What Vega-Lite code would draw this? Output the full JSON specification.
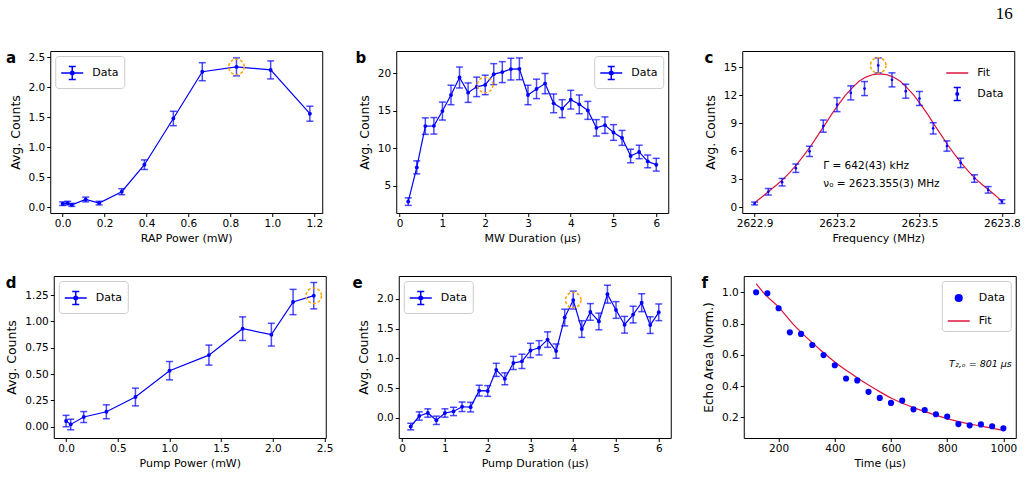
{
"$schema": "https://vega.github.io/schema/vega-lite/v6.json",
"padding": {"left": 5, "top": 4, "right": 9, "bottom": 4},
"title": {"text": "16", "font": "Liberation Serif", "fontSize": 17, "fontWeight": "normal", "anchor": "end", "offset": 28, "dx": -8, "color": "black"},
"config": {
  "font": "DejaVu Sans",
  "view": {"stroke": "black", "strokeWidth": 1},
  "axis": {"domain": false, "grid": false, "tickColor": "black", "tickSize": 3.5, "tickWidth": 1, "labelColor": "black", "labelFontSize": 10.5, "labelPadding": 2, "labelFlush": false, "labelOverlap": false, "titleColor": "black", "titleFontWeight": "normal", "titleFontSize": 11},
  "axisX": {"titlePadding": 3},
  "axisY": {"titleFontSize": 12.5, "titlePadding": 6},
  "legend": {"labelFontSize": 11, "labelColor": "black", "labelOffset": 8, "strokeColor": "#cccccc", "fillColor": "white", "padding": 5, "cornerRadius": 3, "offset": 5, "rowPadding": 4},
  "title": {"font": "DejaVu Sans", "fontSize": 15, "fontWeight": "bold", "anchor": "start", "frame": "bounds", "offset": -15, "color": "black"}
},
"resolve": {"scale": {"color": "independent"}, "legend": {"color": "independent"}},
"spacing": 31,
"center": true,
"vconcat": [
{
"spacing": 74,
"bounds": "flush",
"resolve": {"scale": {"color": "independent"}, "legend": {"color": "independent"}},
"hconcat": [
{
  "width": 272, "height": 162,
  "title": {"text": "a", "dx": -3},
  "data": {"values": [
    {"x":0.0,"y":0.06,"lo":0.03,"hi":0.09},
    {"x":0.024,"y":0.07,"lo":0.04,"hi":0.10},
    {"x":0.044,"y":0.04,"lo":0.015,"hi":0.065},
    {"x":0.11,"y":0.13,"lo":0.09,"hi":0.17},
    {"x":0.174,"y":0.07,"lo":0.04,"hi":0.10},
    {"x":0.282,"y":0.26,"lo":0.21,"hi":0.31},
    {"x":0.39,"y":0.71,"lo":0.63,"hi":0.79},
    {"x":0.528,"y":1.48,"lo":1.36,"hi":1.60},
    {"x":0.666,"y":2.26,"lo":2.11,"hi":2.41},
    {"x":0.829,"y":2.34,"lo":2.19,"hi":2.49},
    {"x":0.992,"y":2.29,"lo":2.14,"hi":2.44},
    {"x":1.179,"y":1.56,"lo":1.435,"hi":1.685}
  ]},
  "encoding": {
    "x": {"field": "x", "type": "quantitative", "scale": {"domain": [-0.059, 1.238], "nice": false, "zero": false}, "axis": {"values": [0,0.2,0.4,0.6,0.8,1.0,1.2], "format": ".1f", "title": "RAP Power (mW)"}}
  },
  "layer": [
    {"mark": {"type": "rule", "color": "blue", "opacity": 0.7, "strokeWidth": 1.5}, "encoding": {"y": {"field": "lo", "type": "quantitative", "scale": {"domain": [-0.095, 2.605], "nice": false, "zero": false}, "axis": {"values": [0,0.5,1,1.5,2,2.5], "format": ".1f", "title": "Avg. Counts"}}, "y2": {"field": "hi"}}},
    {"mark": {"type": "tick", "orient": "horizontal", "color": "blue", "opacity": 0.7, "size": 7, "thickness": 1.5}, "encoding": {"y": {"field": "lo", "type": "quantitative", "scale": {"domain": [-0.095, 2.605], "nice": false, "zero": false}, "axis": {"values": [0,0.5,1,1.5,2,2.5], "format": ".1f", "title": "Avg. Counts"}}}},
    {"mark": {"type": "tick", "orient": "horizontal", "color": "blue", "opacity": 0.7, "size": 7, "thickness": 1.5}, "encoding": {"y": {"field": "hi", "type": "quantitative", "scale": {"domain": [-0.095, 2.605], "nice": false, "zero": false}, "axis": {"values": [0,0.5,1,1.5,2,2.5], "format": ".1f", "title": "Avg. Counts"}}}},
    {"mark": {"type": "line", "strokeWidth": 1.2, "point": {"filled": true, "size": 15}}, "encoding": {"y": {"field": "y", "type": "quantitative", "scale": {"domain": [-0.095, 2.605], "nice": false, "zero": false}, "axis": {"values": [0,0.5,1,1.5,2,2.5], "format": ".1f", "title": "Avg. Counts"}}, "color": {"datum": "Data", "type": "nominal", "scale": {"domain": ["Data"], "range": ["blue"]}, "legend": {"title": null, "orient": "top-left", "encode": {"symbols": {"update": {"shape": {"value": "M-1,0H1M0,-0.58V0.58M-0.32,-0.58H0.32M-0.32,0.58H0.32M0.17,0A0.17,0.17 0 1,1 -0.17,0A0.17,0.17 0 1,1 0.17,0Z"}, "fill": {"value": "blue"}, "stroke": {"value": "blue"}, "strokeWidth": {"value": 1.5}, "size": {"value": 484}, "opacity": {"value": 1}}}}}}}},
    {"transform": [{"filter": "datum.x === 0.829"}], "mark": {"type": "point", "shape": "circle", "filled": false, "stroke": "orange", "strokeWidth": 1.5, "strokeDash": [3, 2], "size": 240, "opacity": 1}, "encoding": {"y": {"field": "y", "type": "quantitative", "scale": {"domain": [-0.095, 2.605], "nice": false, "zero": false}, "axis": {"values": [0,0.5,1,1.5,2,2.5], "format": ".1f", "title": "Avg. Counts"}}}}
  ]
},
{
  "width": 272, "height": 162,
  "title": {"text": "b", "dx": -3},
  "data": {"values": [
    {"x":0.2,"y":2.85,"lo":2.35,"hi":3.35},
    {"x":0.4,"y":7.42,"lo":6.55,"hi":8.29},
    {"x":0.6,"y":12.93,"lo":11.83,"hi":14.03},
    {"x":0.8,"y":12.97,"lo":11.87,"hi":14.07},
    {"x":1.0,"y":14.94,"lo":13.74,"hi":16.14},
    {"x":1.2,"y":17.09,"lo":15.79,"hi":18.39},
    {"x":1.4,"y":19.42,"lo":18.02,"hi":20.82},
    {"x":1.6,"y":17.40,"lo":16.10,"hi":18.70},
    {"x":1.8,"y":18.17,"lo":16.87,"hi":19.47},
    {"x":2.0,"y":18.43,"lo":17.13,"hi":19.73},
    {"x":2.2,"y":19.87,"lo":18.47,"hi":21.27},
    {"x":2.4,"y":20.14,"lo":18.74,"hi":21.54},
    {"x":2.6,"y":20.54,"lo":19.09,"hi":21.99},
    {"x":2.8,"y":20.58,"lo":19.13,"hi":22.03},
    {"x":3.0,"y":17.09,"lo":15.79,"hi":18.39},
    {"x":3.2,"y":17.90,"lo":16.60,"hi":19.20},
    {"x":3.4,"y":18.61,"lo":17.26,"hi":19.96},
    {"x":3.6,"y":15.97,"lo":14.72,"hi":17.22},
    {"x":3.8,"y":15.26,"lo":14.06,"hi":16.46},
    {"x":4.0,"y":16.46,"lo":15.21,"hi":17.71},
    {"x":4.2,"y":15.84,"lo":14.59,"hi":17.09},
    {"x":4.4,"y":15.03,"lo":13.83,"hi":16.23},
    {"x":4.6,"y":12.70,"lo":11.60,"hi":13.80},
    {"x":4.8,"y":13.06,"lo":11.96,"hi":14.16},
    {"x":5.0,"y":12.08,"lo":11.03,"hi":13.13},
    {"x":5.2,"y":11.36,"lo":10.36,"hi":12.36},
    {"x":5.4,"y":8.94,"lo":8.04,"hi":9.84},
    {"x":5.6,"y":9.48,"lo":8.58,"hi":10.38},
    {"x":5.8,"y":8.22,"lo":7.37,"hi":9.07},
    {"x":6.0,"y":7.78,"lo":6.93,"hi":8.63}
  ]},
  "encoding": {
    "x": {"field": "x", "type": "quantitative", "scale": {"domain": [-0.08, 6.28], "nice": false, "zero": false}, "axis": {"values": [0,1,2,3,4,5,6], "format": "d", "title": "MW Duration (μs)"}}
  },
  "layer": [
    {"mark": {"type": "rule", "color": "blue", "opacity": 0.7, "strokeWidth": 1.5}, "encoding": {"y": {"field": "lo", "type": "quantitative", "scale": {"domain": [1.33, 22.96], "nice": false, "zero": false}, "axis": {"values": [5,10,15,20], "format": "d", "title": "Avg. Counts"}}, "y2": {"field": "hi"}}},
    {"mark": {"type": "tick", "orient": "horizontal", "color": "blue", "opacity": 0.7, "size": 7, "thickness": 1.5}, "encoding": {"y": {"field": "lo", "type": "quantitative", "scale": {"domain": [1.33, 22.96], "nice": false, "zero": false}, "axis": {"values": [5,10,15,20], "format": "d", "title": "Avg. Counts"}}}},
    {"mark": {"type": "tick", "orient": "horizontal", "color": "blue", "opacity": 0.7, "size": 7, "thickness": 1.5}, "encoding": {"y": {"field": "hi", "type": "quantitative", "scale": {"domain": [1.33, 22.96], "nice": false, "zero": false}, "axis": {"values": [5,10,15,20], "format": "d", "title": "Avg. Counts"}}}},
    {"mark": {"type": "line", "strokeWidth": 1.2, "point": {"filled": true, "size": 15}}, "encoding": {"y": {"field": "y", "type": "quantitative", "scale": {"domain": [1.33, 22.96], "nice": false, "zero": false}, "axis": {"values": [5,10,15,20], "format": "d", "title": "Avg. Counts"}}, "color": {"datum": "Data", "type": "nominal", "scale": {"domain": ["Data"], "range": ["blue"]}, "legend": {"title": null, "orient": "top-right", "encode": {"symbols": {"update": {"shape": {"value": "M-1,0H1M0,-0.58V0.58M-0.32,-0.58H0.32M-0.32,0.58H0.32M0.17,0A0.17,0.17 0 1,1 -0.17,0A0.17,0.17 0 1,1 0.17,0Z"}, "fill": {"value": "blue"}, "stroke": {"value": "blue"}, "strokeWidth": {"value": 1.5}, "size": {"value": 484}, "opacity": {"value": 1}}}}}}}},
    {"transform": [{"filter": "datum.x === 2.0"}], "mark": {"type": "point", "shape": "circle", "filled": false, "stroke": "orange", "strokeWidth": 1.5, "strokeDash": [3, 2], "size": 240, "opacity": 1}, "encoding": {"y": {"field": "y", "type": "quantitative", "scale": {"domain": [1.33, 22.96], "nice": false, "zero": false}, "axis": {"values": [5,10,15,20], "format": "d", "title": "Avg. Counts"}}}}
  ]
},
{
  "width": 272, "height": 162,
  "title": {"text": "c", "dx": 0},
  "encoding": {
    "x": {"field": "x", "type": "quantitative", "scale": {"domain": [2622.855, 2623.845], "nice": false, "zero": false}, "axis": {"values": [2622.9,2623.2,2623.5,2623.8], "format": ".1f", "title": "Frequency (MHz)"}},
    "y": {"field": "y", "type": "quantitative", "scale": {"domain": [-0.6, 16.74], "nice": false, "zero": false}, "axis": {"values": [0,3,6,9,12,15], "format": "d", "title": "Avg. Counts"}}
  },
  "layer": [
    {"data": {"values": [
      {"x":2622.9,"y":0.5},{"x":2622.93,"y":1.2},{"x":2622.955,"y":1.8},{"x":2622.98,"y":2.4},
      {"x":2623.005,"y":3.05},{"x":2623.03,"y":3.8},{"x":2623.055,"y":4.65},{"x":2623.08,"y":5.6},
      {"x":2623.105,"y":6.6},{"x":2623.13,"y":7.7},{"x":2623.155,"y":8.8},{"x":2623.18,"y":9.95},
      {"x":2623.205,"y":11.0},{"x":2623.23,"y":12.0},{"x":2623.255,"y":12.8},{"x":2623.28,"y":13.5},
      {"x":2623.305,"y":13.95},{"x":2623.33,"y":14.22},{"x":2623.355,"y":14.3},{"x":2623.38,"y":14.22},
      {"x":2623.405,"y":13.95},{"x":2623.43,"y":13.5},{"x":2623.455,"y":12.8},{"x":2623.48,"y":12.0},
      {"x":2623.505,"y":11.0},{"x":2623.53,"y":9.95},{"x":2623.555,"y":8.8},{"x":2623.58,"y":7.7},
      {"x":2623.605,"y":6.6},{"x":2623.63,"y":5.6},{"x":2623.655,"y":4.65},{"x":2623.68,"y":3.8},
      {"x":2623.705,"y":3.05},{"x":2623.73,"y":2.4},{"x":2623.755,"y":1.8},{"x":2623.78,"y":1.2},
      {"x":2623.8,"y":0.65}
    ]},
     "mark": {"type": "line", "strokeWidth": 1.2},
     "encoding": {"color": {"datum": "Fit", "type": "nominal", "scale": {"domain": ["Fit", "Data"], "range": ["crimson", "blue"]}, "legend": {"title": null, "orient": "top-right", "strokeColor": "transparent", "fillColor": "transparent", "encode": {"symbols": {"update": {"shape": [{"test": "datum.value === 'Fit'", "value": "M-1,0H1"}, {"value": "M0,-0.58V0.58M-0.32,-0.58H0.32M-0.32,0.58H0.32M0.12,0A0.12,0.12 0 1,1 -0.12,0A0.12,0.12 0 1,1 0.12,0Z"}], "stroke": [{"test": "datum.value === 'Fit'", "value": "crimson"}, {"value": "blue"}], "fill": {"value": "blue"}, "strokeWidth": {"value": 1.5}, "size": {"value": 484}, "opacity": {"value": 1}}}}}}}},
    {"data": {"values": [
      {"x":2622.90,"y":0.42,"lo":0.27,"hi":0.57},
      {"x":2622.95,"y":1.67,"lo":1.32,"hi":2.02},
      {"x":2623.00,"y":2.70,"lo":2.30,"hi":3.10},
      {"x":2623.05,"y":4.19,"lo":3.74,"hi":4.64},
      {"x":2623.10,"y":6.00,"lo":5.45,"hi":6.55},
      {"x":2623.15,"y":8.70,"lo":8.05,"hi":9.35},
      {"x":2623.20,"y":11.00,"lo":10.25,"hi":11.75},
      {"x":2623.25,"y":12.26,"lo":11.51,"hi":13.01},
      {"x":2623.30,"y":12.72,"lo":11.97,"hi":13.47},
      {"x":2623.35,"y":15.20,"lo":14.40,"hi":16.00},
      {"x":2623.40,"y":13.65,"lo":12.90,"hi":14.40},
      {"x":2623.45,"y":12.44,"lo":11.69,"hi":13.19},
      {"x":2623.50,"y":11.66,"lo":10.91,"hi":12.41},
      {"x":2623.55,"y":8.46,"lo":7.86,"hi":9.06},
      {"x":2623.60,"y":6.57,"lo":6.02,"hi":7.12},
      {"x":2623.65,"y":4.76,"lo":4.26,"hi":5.26},
      {"x":2623.70,"y":3.09,"lo":2.69,"hi":3.49},
      {"x":2623.75,"y":1.88,"lo":1.53,"hi":2.23},
      {"x":2623.80,"y":0.62,"lo":0.42,"hi":0.82}
    ]},
     "layer": [
      {"mark": {"type": "rule", "color": "blue", "opacity": 0.7, "strokeWidth": 1.5}, "encoding": {"y": {"field": "lo", "type": "quantitative", "scale": {"domain": [-0.6, 16.74], "nice": false, "zero": false}, "axis": {"values": [0,3,6,9,12,15], "format": "d", "title": "Avg. Counts"}}, "y2": {"field": "hi"}}},
      {"mark": {"type": "tick", "orient": "horizontal", "color": "blue", "opacity": 0.7, "size": 7, "thickness": 1.5}, "encoding": {"y": {"field": "lo", "type": "quantitative", "scale": {"domain": [-0.6, 16.74], "nice": false, "zero": false}, "axis": {"values": [0,3,6,9,12,15], "format": "d", "title": "Avg. Counts"}}}},
      {"mark": {"type": "tick", "orient": "horizontal", "color": "blue", "opacity": 0.7, "size": 7, "thickness": 1.5}, "encoding": {"y": {"field": "hi", "type": "quantitative", "scale": {"domain": [-0.6, 16.74], "nice": false, "zero": false}, "axis": {"values": [0,3,6,9,12,15], "format": "d", "title": "Avg. Counts"}}}},
      {"mark": {"type": "point", "filled": true, "size": 7, "opacity": 1}, "encoding": {"color": {"datum": "Data", "type": "nominal", "scale": {"domain": ["Fit", "Data"], "range": ["crimson", "blue"]}}}},
      {"transform": [{"filter": "datum.x === 2623.35"}], "mark": {"type": "point", "shape": "circle", "filled": false, "stroke": "orange", "strokeWidth": 1.5, "strokeDash": [3, 2], "size": 240, "opacity": 1}}
     ]},
    {"data": {"values": [{"x": 2623.15, "y": 4.44, "label": "Γ = 642(43) kHz"}, {"x": 2623.15, "y": 2.48, "label": "ν₀ = 2623.355(3) MHz"}]},
     "mark": {"type": "text", "align": "left", "baseline": "middle", "fontSize": 10.5, "color": "black"}, "encoding": {"text": {"field": "label", "type": "nominal"}}}
  ]
}
]
},
{
"spacing": 73,
"bounds": "flush",
"resolve": {"scale": {"color": "independent"}, "legend": {"color": "independent"}},
"hconcat": [
{
  "width": 272, "height": 162,
  "title": {"text": "d", "dx": 0},
  "data": {"values": [
    {"x":0.0,"y":0.054,"lo":0.0,"hi":0.108},
    {"x":0.045,"y":0.022,"lo":-0.028,"hi":0.072},
    {"x":0.171,"y":0.092,"lo":0.04,"hi":0.144},
    {"x":0.39,"y":0.142,"lo":0.076,"hi":0.208},
    {"x":0.671,"y":0.282,"lo":0.198,"hi":0.366},
    {"x":1.001,"y":0.532,"lo":0.445,"hi":0.619},
    {"x":1.382,"y":0.68,"lo":0.585,"hi":0.775},
    {"x":1.708,"y":0.931,"lo":0.819,"hi":1.043},
    {"x":1.986,"y":0.874,"lo":0.766,"hi":0.982},
    {"x":2.196,"y":1.184,"lo":1.064,"hi":1.304},
    {"x":2.396,"y":1.244,"lo":1.119,"hi":1.369}
  ]},
  "encoding": {
    "x": {"field": "x", "type": "quantitative", "scale": {"domain": [-0.119, 2.512], "nice": false, "zero": false}, "axis": {"values": [0,0.5,1,1.5,2,2.5], "format": ".1f", "title": "Pump Power (mW)"}}
  },
  "layer": [
    {"mark": {"type": "rule", "color": "blue", "opacity": 0.7, "strokeWidth": 1.5}, "encoding": {"y": {"field": "lo", "type": "quantitative", "scale": {"domain": [-0.107, 1.431], "nice": false, "zero": false}, "axis": {"values": [0,0.25,0.5,0.75,1,1.25], "format": ".2f", "title": "Avg. Counts"}}, "y2": {"field": "hi"}}},
    {"mark": {"type": "tick", "orient": "horizontal", "color": "blue", "opacity": 0.7, "size": 7, "thickness": 1.5}, "encoding": {"y": {"field": "lo", "type": "quantitative", "scale": {"domain": [-0.107, 1.431], "nice": false, "zero": false}, "axis": {"values": [0,0.25,0.5,0.75,1,1.25], "format": ".2f", "title": "Avg. Counts"}}}},
    {"mark": {"type": "tick", "orient": "horizontal", "color": "blue", "opacity": 0.7, "size": 7, "thickness": 1.5}, "encoding": {"y": {"field": "hi", "type": "quantitative", "scale": {"domain": [-0.107, 1.431], "nice": false, "zero": false}, "axis": {"values": [0,0.25,0.5,0.75,1,1.25], "format": ".2f", "title": "Avg. Counts"}}}},
    {"mark": {"type": "line", "strokeWidth": 1.2, "point": {"filled": true, "size": 15}}, "encoding": {"y": {"field": "y", "type": "quantitative", "scale": {"domain": [-0.107, 1.431], "nice": false, "zero": false}, "axis": {"values": [0,0.25,0.5,0.75,1,1.25], "format": ".2f", "title": "Avg. Counts"}}, "color": {"datum": "Data", "type": "nominal", "scale": {"domain": ["Data"], "range": ["blue"]}, "legend": {"title": null, "orient": "top-left", "encode": {"symbols": {"update": {"shape": {"value": "M-1,0H1M0,-0.58V0.58M-0.32,-0.58H0.32M-0.32,0.58H0.32M0.17,0A0.17,0.17 0 1,1 -0.17,0A0.17,0.17 0 1,1 0.17,0Z"}, "fill": {"value": "blue"}, "stroke": {"value": "blue"}, "strokeWidth": {"value": 1.5}, "size": {"value": 484}, "opacity": {"value": 1}}}}}}}},
    {"transform": [{"filter": "datum.x === 2.396"}], "mark": {"type": "point", "shape": "circle", "filled": false, "stroke": "orange", "strokeWidth": 1.5, "strokeDash": [3, 2], "size": 240, "opacity": 1}, "encoding": {"y": {"field": "y", "type": "quantitative", "scale": {"domain": [-0.107, 1.431], "nice": false, "zero": false}, "axis": {"values": [0,0.25,0.5,0.75,1,1.25], "format": ".2f", "title": "Avg. Counts"}}}}
  ]
},
{
  "width": 272, "height": 162,
  "title": {"text": "e", "dx": -5},
  "data": {"values": [
    {"x":0.2,"y":-0.144,"lo":-0.199,"hi":-0.089},
    {"x":0.4,"y":0.033,"lo":-0.037,"hi":0.103},
    {"x":0.6,"y":0.083,"lo":0.013,"hi":0.153},
    {"x":0.8,"y":-0.039,"lo":-0.109,"hi":0.031},
    {"x":1.0,"y":0.083,"lo":0.013,"hi":0.153},
    {"x":1.2,"y":0.11,"lo":0.04,"hi":0.18},
    {"x":1.4,"y":0.188,"lo":0.108,"hi":0.268},
    {"x":1.6,"y":0.182,"lo":0.102,"hi":0.262},
    {"x":1.8,"y":0.459,"lo":0.369,"hi":0.549},
    {"x":2.0,"y":0.453,"lo":0.363,"hi":0.543},
    {"x":2.2,"y":0.807,"lo":0.697,"hi":0.917},
    {"x":2.4,"y":0.657,"lo":0.557,"hi":0.757},
    {"x":2.6,"y":0.923,"lo":0.813,"hi":1.033},
    {"x":2.8,"y":0.95,"lo":0.83,"hi":1.07},
    {"x":3.0,"y":1.133,"lo":1.013,"hi":1.253},
    {"x":3.2,"y":1.177,"lo":1.057,"hi":1.297},
    {"x":3.4,"y":1.315,"lo":1.185,"hi":1.445},
    {"x":3.6,"y":1.122,"lo":1.002,"hi":1.242},
    {"x":3.8,"y":1.685,"lo":1.545,"hi":1.825},
    {"x":4.0,"y":1.978,"lo":1.828,"hi":2.128},
    {"x":4.2,"y":1.492,"lo":1.352,"hi":1.632},
    {"x":4.4,"y":1.779,"lo":1.639,"hi":1.919},
    {"x":4.6,"y":1.619,"lo":1.479,"hi":1.759},
    {"x":4.8,"y":2.077,"lo":1.927,"hi":2.227},
    {"x":5.0,"y":1.812,"lo":1.672,"hi":1.952},
    {"x":5.2,"y":1.564,"lo":1.424,"hi":1.704},
    {"x":5.4,"y":1.735,"lo":1.595,"hi":1.875},
    {"x":5.6,"y":1.934,"lo":1.784,"hi":2.084},
    {"x":5.8,"y":1.558,"lo":1.418,"hi":1.698},
    {"x":6.0,"y":1.773,"lo":1.633,"hi":1.913}
  ]},
  "encoding": {
    "x": {"field": "x", "type": "quantitative", "scale": {"domain": [-0.08, 6.28], "nice": false, "zero": false}, "axis": {"values": [0,1,2,3,4,5,6], "format": "d", "title": "Pump Duration (μs)"}}
  },
  "layer": [
    {"mark": {"type": "rule", "color": "blue", "opacity": 0.7, "strokeWidth": 1.5}, "encoding": {"y": {"field": "lo", "type": "quantitative", "scale": {"domain": [-0.336, 2.382], "nice": false, "zero": false}, "axis": {"values": [0,0.5,1,1.5,2], "format": ".1f", "title": "Avg. Counts"}}, "y2": {"field": "hi"}}},
    {"mark": {"type": "tick", "orient": "horizontal", "color": "blue", "opacity": 0.7, "size": 7, "thickness": 1.5}, "encoding": {"y": {"field": "lo", "type": "quantitative", "scale": {"domain": [-0.336, 2.382], "nice": false, "zero": false}, "axis": {"values": [0,0.5,1,1.5,2], "format": ".1f", "title": "Avg. Counts"}}}},
    {"mark": {"type": "tick", "orient": "horizontal", "color": "blue", "opacity": 0.7, "size": 7, "thickness": 1.5}, "encoding": {"y": {"field": "hi", "type": "quantitative", "scale": {"domain": [-0.336, 2.382], "nice": false, "zero": false}, "axis": {"values": [0,0.5,1,1.5,2], "format": ".1f", "title": "Avg. Counts"}}}},
    {"mark": {"type": "line", "strokeWidth": 1.2, "point": {"filled": true, "size": 15}}, "encoding": {"y": {"field": "y", "type": "quantitative", "scale": {"domain": [-0.336, 2.382], "nice": false, "zero": false}, "axis": {"values": [0,0.5,1,1.5,2], "format": ".1f", "title": "Avg. Counts"}}, "color": {"datum": "Data", "type": "nominal", "scale": {"domain": ["Data"], "range": ["blue"]}, "legend": {"title": null, "orient": "top-left", "encode": {"symbols": {"update": {"shape": {"value": "M-1,0H1M0,-0.58V0.58M-0.32,-0.58H0.32M-0.32,0.58H0.32M0.17,0A0.17,0.17 0 1,1 -0.17,0A0.17,0.17 0 1,1 0.17,0Z"}, "fill": {"value": "blue"}, "stroke": {"value": "blue"}, "strokeWidth": {"value": 1.5}, "size": {"value": 484}, "opacity": {"value": 1}}}}}}}},
    {"transform": [{"filter": "datum.x === 4.0"}], "mark": {"type": "point", "shape": "circle", "filled": false, "stroke": "orange", "strokeWidth": 1.5, "strokeDash": [3, 2], "size": 240, "opacity": 1}, "encoding": {"y": {"field": "y", "type": "quantitative", "scale": {"domain": [-0.336, 2.382], "nice": false, "zero": false}, "axis": {"values": [0,0.5,1,1.5,2], "format": ".1f", "title": "Avg. Counts"}}}}
  ]
},
{
  "width": 272, "height": 162,
  "title": {"text": "f", "dx": -1},
  "encoding": {
    "x": {"field": "x", "type": "quantitative", "scale": {"domain": [76, 1044], "nice": false, "zero": false}, "axis": {"values": [200,400,600,800,1000], "format": "d", "title": "Time (μs)"}},
    "y": {"field": "y", "type": "quantitative", "scale": {"domain": [0.069, 1.104], "nice": false, "zero": false}, "axis": {"values": [0.2,0.4,0.6,0.8,1.0], "format": ".1f", "title": "Echo Area (Norm.)", "titleFontSize": 12}}
  },
  "layer": [
    {"data": {"values": [
      {"x":120,"y":1.056},{"x":150,"y":0.99},{"x":200,"y":0.905},{"x":250,"y":0.80},{"x":300,"y":0.71},
      {"x":350,"y":0.63},{"x":400,"y":0.555},{"x":450,"y":0.49},{"x":500,"y":0.43},{"x":550,"y":0.375},
      {"x":600,"y":0.325},{"x":650,"y":0.285},{"x":700,"y":0.25},{"x":750,"y":0.22},{"x":800,"y":0.193},
      {"x":850,"y":0.17},{"x":900,"y":0.152},{"x":950,"y":0.135},{"x":1000,"y":0.118}
    ]},
     "mark": {"type": "line", "strokeWidth": 1.2, "interpolate": "monotone"},
     "encoding": {"color": {"datum": "Fit", "type": "nominal", "scale": {"domain": ["Data", "Fit"], "range": ["blue", "crimson"]}, "legend": {"title": null, "orient": "top-right", "encode": {"symbols": {"update": {"shape": [{"test": "datum.value === 'Fit'", "value": "M-1,0H1"}, {"value": "M0.3,0A0.3,0.3 0 1,1 -0.3,0A0.3,0.3 0 1,1 0.3,0Z"}], "stroke": [{"test": "datum.value === 'Fit'", "value": "crimson"}, {"value": "blue"}], "fill": {"value": "blue"}, "strokeWidth": {"value": 1.5}, "size": {"value": 484}, "opacity": {"value": 1}}}}}}}},
    {"data": {"values": [
      {"x":120,"y":1.0},{"x":160,"y":0.994},{"x":200,"y":0.898},{"x":240,"y":0.744},{"x":280,"y":0.734},
      {"x":320,"y":0.663},{"x":360,"y":0.599},{"x":400,"y":0.534},{"x":440,"y":0.449},{"x":480,"y":0.437},
      {"x":520,"y":0.364},{"x":560,"y":0.325},{"x":600,"y":0.293},{"x":640,"y":0.308},{"x":680,"y":0.252},
      {"x":720,"y":0.248},{"x":760,"y":0.221},{"x":800,"y":0.206},{"x":840,"y":0.158},{"x":880,"y":0.15},
      {"x":920,"y":0.156},{"x":960,"y":0.144},{"x":1000,"y":0.131}
    ]},
     "mark": {"type": "point", "filled": true, "size": 38, "opacity": 1},
     "encoding": {"color": {"datum": "Data", "type": "nominal", "scale": {"domain": ["Data", "Fit"], "range": ["blue", "crimson"]}}}},
    {"data": {"values": [{"x": 1030, "y": 0.543, "label": "T₂,ₒ = 801 μs"}]},
     "mark": {"type": "text", "align": "right", "baseline": "middle", "fontSize": 9.5, "fontStyle": "italic", "color": "black"}, "encoding": {"text": {"field": "label", "type": "nominal"}}}
  ]
}
]
}
]
}
